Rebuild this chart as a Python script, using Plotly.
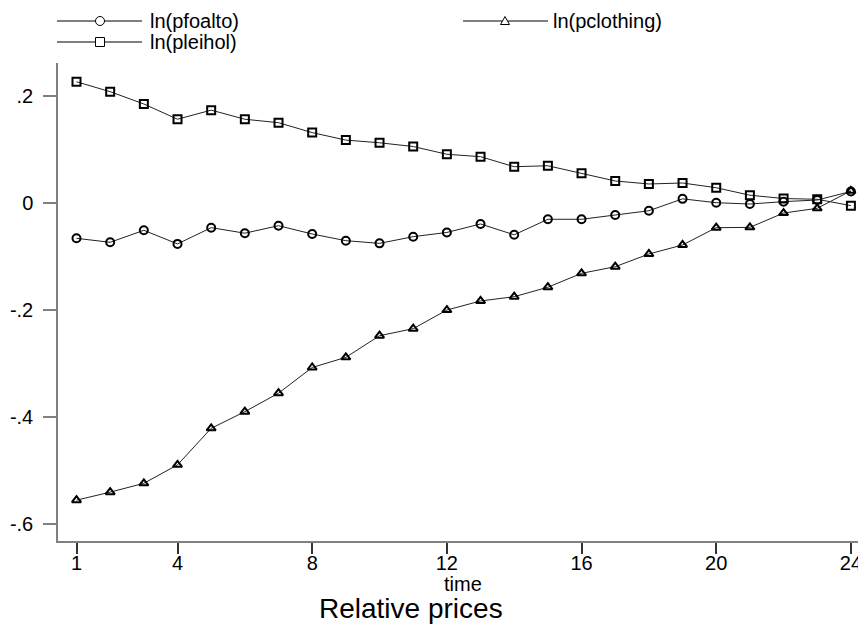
import plotly.graph_objects as go

# ---------------- data ----------------
time = list(range(1, 25))
pfoalto = [-0.0666, -0.074, -0.0516, -0.077, -0.0467, -0.057, -0.043, -0.0585,
           -0.071, -0.076, -0.0635, -0.0556, -0.0398, -0.060, -0.031, -0.031,
           -0.023, -0.015, 0.0072, 0.000, -0.0025, 0.002, 0.005, 0.021]
pclothing = [-0.556, -0.541, -0.5245, -0.490, -0.4217, -0.3906, -0.356, -0.308,
             -0.289, -0.2486, -0.2355, -0.2006, -0.1837, -0.1757, -0.158, -0.132,
             -0.1196, -0.0959, -0.079, -0.0467, -0.0461, -0.0193, -0.0105, 0.0222]
pleihol = [0.226, 0.2075, 0.1845, 0.156, 0.173, 0.156, 0.1495, 0.131,
           0.117, 0.112, 0.105, 0.0905, 0.086, 0.0673, 0.069, 0.055,
           0.0406, 0.035, 0.0368, 0.028, 0.0140, 0.0078, 0.0064, -0.0055]

series_names = ["ln(pfoalto)", "ln(pclothing)", "ln(pleihol)"]
x_ticks = [1, 4, 8, 12, 16, 20, 24]
y_ticks = [-0.6, -0.4, -0.2, 0, 0.2]
y_ticktext = ["-.6", "-.4", "-.2", "0", ".2"]
x_title = "time"
chart_title = "Relative prices"

# ---------------- figure ----------------
W, H = 866, 633
ML, MR, MT, MB = 50, 0, 55, 100
OFF = 8  # page body margin
FONT = "Liberation Sans, Arial, sans-serif"

fig = go.Figure()
symbols = ["circle-open", "triangle-up-open", "square-open"]
for name, ys, sym in zip(series_names, [pfoalto, pclothing, pleihol], symbols):
    fig.add_trace(go.Scatter(
        x=time, y=ys, name=name, mode="lines+markers",
        line=dict(color="#222222", width=1),
        marker=dict(symbol=sym, size=8, color="black", line=dict(color="black", width=2)),
        showlegend=False,
    ))

pw = W - ML - MR
ph = H - MT - MB


def px(xp):
    # page pixel -> paper x
    return (xp - OFF - ML) / pw


def py(yp):
    # page pixel -> paper y
    return (H - MB - (yp - OFF)) / ph


shapes = []
annotations = []
# custom legend (line with marker in middle, text to the right)
legend_items = [
    (57, 142, 100, 21, "circle", series_names[0], 148),
    (463, 548, 505, 21, "triangle", series_names[1], 551),
    (57, 142, 100, 42, "square", series_names[2], 148),
]
for x0, x1, xm, yc, kind, label, xt in legend_items:
    shapes.append(dict(type="line", xref="paper", yref="paper",
                       x0=px(x0), x1=px(x1), y0=py(yc), y1=py(yc),
                       line=dict(color="black", width=1)))
    r = 4.5
    if kind == "circle":
        shapes.append(dict(type="circle", xref="paper", yref="paper",
                           x0=px(xm - r), x1=px(xm + r), y0=py(yc + r), y1=py(yc - r),
                           line=dict(color="black", width=1), fillcolor="white"))
    elif kind == "square":
        shapes.append(dict(type="rect", xref="paper", yref="paper",
                           x0=px(xm - r), x1=px(xm + r), y0=py(yc + r), y1=py(yc - r),
                           line=dict(color="black", width=1), fillcolor="white"))
    else:
        path = "M {} {} L {} {} L {} {} Z".format(
            px(xm - r), py(yc + 3.5), px(xm + r), py(yc + 3.5), px(xm), py(yc - 4.5))
        shapes.append(dict(type="path", xref="paper", yref="paper", path=path,
                           line=dict(color="black", width=1), fillcolor="white"))
    annotations.append(dict(xref="paper", yref="paper", x=px(xt), y=py(yc),
                            xanchor="left", yanchor="middle", showarrow=False,
                            text=label, font=dict(family=FONT, size=20, color="black")))

annotations.append(dict(xref="paper", yref="paper", x=px(463), y=0, yshift=-43,
                        xanchor="center", yanchor="middle", showarrow=False,
                        text=x_title, font=dict(family=FONT, size=20, color="black")))
annotations.append(dict(xref="paper", yref="paper", x=px(411), y=0, yshift=-67,
                        xanchor="center", yanchor="middle", showarrow=False,
                        text=chart_title, font=dict(family=FONT, size=28, color="black")))

fig.update_layout(
    width=W, height=H, autosize=False,
    margin=dict(l=ML, r=MR, t=MT, b=MB, pad=0),
    paper_bgcolor="white", plot_bgcolor="white",
    font=dict(family=FONT, size=20, color="black"),
    shapes=shapes, annotations=annotations,
    showlegend=False,
)
fig.update_xaxes(
    range=[0.4505, 24.686], tickvals=x_ticks, ticktext=[str(t) for t in x_ticks],
    showgrid=False, zeroline=False, showline=True, linecolor="#808080", linewidth=2,
    ticks="outside", ticklen=11, tickwidth=1.5, tickcolor="#333333",
    tickfont=dict(family=FONT, size=20, color="black"),
    ticklabelstandoff=-8, automargin=False,
)
fig.update_yaxes(
    range=[-0.6323, 0.2611], tickvals=y_ticks, ticktext=y_ticktext,
    showgrid=False, zeroline=False, showline=True, linecolor="#808080", linewidth=1.5,
    ticks="outside", ticklen=13, tickwidth=1.5, tickcolor="#808080",
    tickfont=dict(family=FONT, size=20, color="black"),
    ticklabelstandoff=6, automargin=False,
)

fig.write_html("out.html")
